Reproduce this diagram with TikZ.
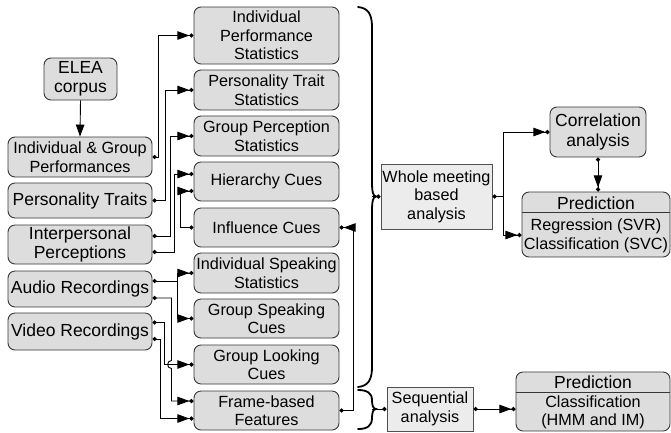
\documentclass[tikz,border=0pt]{standalone}
\usepackage{fontspec}
\setmainfont{Liberation Sans}
\usetikzlibrary{arrows.meta,calc}
\definecolor{boxfill}{RGB}{221,221,221}
\definecolor{boxdraw}{RGB}{55,55,55}
\definecolor{sqfill}{RGB}{236,236,236}
\definecolor{sqdraw}{RGB}{80,80,80}
\begin{document}
\begin{tikzpicture}[x=1pt,y=-1pt,
  txt/.style={font=\fontsize{16.2}{18.5}\selectfont},
  big/.style={font=\fontsize{17.5}{19.5}\selectfont},
  box/.style={txt, draw=boxdraw, fill=boxfill, rounded corners=7pt, line width=0.9pt, inner sep=0pt, align=center},
  lbox/.style={box, minimum width=144pt},
  mbox/.style={box, minimum width=145pt},
  sqbox/.style={txt, draw=sqdraw, fill=sqfill, line width=0.9pt, inner sep=0pt, align=center},
  con/.style={line width=0.9pt, arrows={Circle[length=4.2pt]-Triangle[length=12pt,width=8.5pt] Circle[length=4.2pt]}},
  conb/.style={line width=0.9pt, arrows={-Triangle[length=12pt,width=8.5pt] Circle[length=4.2pt]}},
  cond/.style={line width=0.9pt, arrows={-Circle[length=4.2pt]}},
  bracepath/.style={line width=1.8pt, line cap=round}
]
\useasboundingbox (0,0) rectangle (671,432);

% left column
\node[lbox, big, minimum width=73pt, minimum height=42pt] (elea) at (80.5,79) {ELEA\\corpus};
\node[lbox, minimum height=40pt] (igp) at (80,157) {Individual \& Group\\Performances};
\node[lbox, big, minimum height=35pt] (pt) at (80,200.5) {Personality Traits};
\node[lbox, big, minimum height=39pt] (ip) at (80,244.5) {Interpersonal\\Perceptions};
\node[lbox, big, minimum height=36pt] (audio) at (80,289) {Audio Recordings};
\node[lbox, big, minimum height=37pt] (video) at (80,331.5) {Video Recordings};

% middle column
\node[mbox, minimum height=57pt] (ips) at (266.5,35.5) {Individual\\Performance\\Statistics};
\node[mbox, minimum height=40pt] (pts) at (266.5,90) {Personality Trait\\Statistics};
\node[mbox, minimum height=40pt] (gps) at (266.5,136) {Group Perception\\Statistics};
\node[mbox, minimum height=39pt] (hc) at (266.5,181.5) {Hierarchy Cues};
\node[mbox, minimum height=39pt] (ic) at (266.5,227.5) {Influence Cues};
\node[mbox, minimum height=40pt] (iss) at (266.5,273) {Individual Speaking\\Statistics};
\node[mbox, minimum height=39pt] (gsc) at (266.5,318.5) {Group Speaking\\Cues};
\node[mbox, minimum height=39pt] (glc) at (266.5,364.5) {Group Looking\\Cues};
\node[mbox, minimum height=39pt] (fbf) at (266.5,410.5) {Frame-based\\Features};

% analysis boxes
\node[sqbox, minimum width=111pt, minimum height=65pt] (whole) at (436.5,196.5) {Whole meeting\\based\\analysis};
\node[sqbox, minimum width=86pt, minimum height=44pt] (seq) at (430,409) {Sequential\\analysis};
\node[box, big, minimum width=96pt, minimum height=50pt] (corr) at (598,132) {Correlation\\analysis};

\node[box, minimum width=148pt, minimum height=65pt] (pred1) at (596,224.5) {};
\draw[draw=boxdraw, line width=0.9pt] (pred1.west |- 0,212.5) -- (pred1.east |- 0,212.5);
\node[big, inner sep=0pt] (p1t) at (596,203) {Prediction};
\node[txt, inner sep=0pt, align=center] (p1b) at (596,236) {Regression (SVR)\\Classification (SVC)};

\node[box, minimum width=154pt, minimum height=59pt] (pred2) at (593,401.5) {};
\draw[draw=boxdraw, line width=0.9pt] (pred2.west |- 0,392) -- (pred2.east |- 0,392);
\node[big, inner sep=0pt] (p2t) at (593,382.5) {Prediction};
\node[txt, inner sep=0pt, align=center] (p2b) at (593,412.5) {Classification\\(HMM and IM)};

% connectors
\draw[line width=0.9pt, arrows={-Triangle[length=12pt,width=8.5pt]}] (elea.south) -- (igp.north);
\draw[con] (igp.east) -- ++(6,0) |- (ips.west);
\draw[con] (pt.east) -- ++(12.5,0) |- (pts.west);
\draw[con] ([yshift=8.5pt]ip.east) -- ++(17.5,0) |- (gps.west);
\draw[con] ([yshift=-7.5pt]ip.east) -- ++(22,0) |- ([yshift=7.5pt]hc.west);
\draw[con] (ic.west) -- ++(-13,0) |- ([yshift=-9.5pt]hc.west);
\draw[con] ([yshift=8pt]audio.east) -- ++(25,0) coordinate (a1) |- (iss.west);
\draw[conb] (a1) |- (gsc.west);
\draw[con] ([yshift=-9pt]audio.east) -- ++(19,0) coordinate (a2)
  -- ($(a2 |- glc.west)+(0,-4)$) to[out=180,in=180,looseness=1.6] ($(a2 |- glc.west)+(0,4)$)
  |- ([yshift=9.5pt]fbf.west);
\draw[con] ([yshift=9pt]video.east) -- ++(12,0) |- (glc.west);
\draw[con] ([yshift=-7.5pt]video.east) -- ++(8,0) |- ([yshift=-8pt]fbf.west);
\draw[con] (fbf.east) -- ++(14,0) |- (ic.east);

% braces
\draw[bracepath] (358,7) .. controls (368,8) and (372,14) .. (372,27) -- (372,184)
  .. controls (372,191) and (373,196.5) .. (376,196.5)
  .. controls (373,196.5) and (372,202) .. (372,209) -- (372,367)
  .. controls (372,380) and (368,386) .. (358,387);
\coordinate (bt1) at (372,196.5);
\draw[bracepath] (358,390) .. controls (367,390) and (372,393) .. (372,400)
  .. controls (372,405) and (373,409) .. (376,409)
  .. controls (373,409) and (372,413) .. (372,418)
  .. controls (372,426) and (367,429) .. (358,429);
\coordinate (bt2) at (372,409);
\draw[cond] (bt1) -- (whole.west);
\draw[cond] (bt2) -- (seq.west);

% analysis connectors
\draw[con] (whole.east) -- ++(11,0) coordinate (w1) |- (corr.west);
\draw[conb] (w1) |- ([yshift=-10.5pt]pred1.west);
\draw[con] (corr.south) -- (corr.south |- pred1.north);
\draw[con] (seq.east) -- (seq.east -| pred2.west);
\end{tikzpicture}
\end{document}
